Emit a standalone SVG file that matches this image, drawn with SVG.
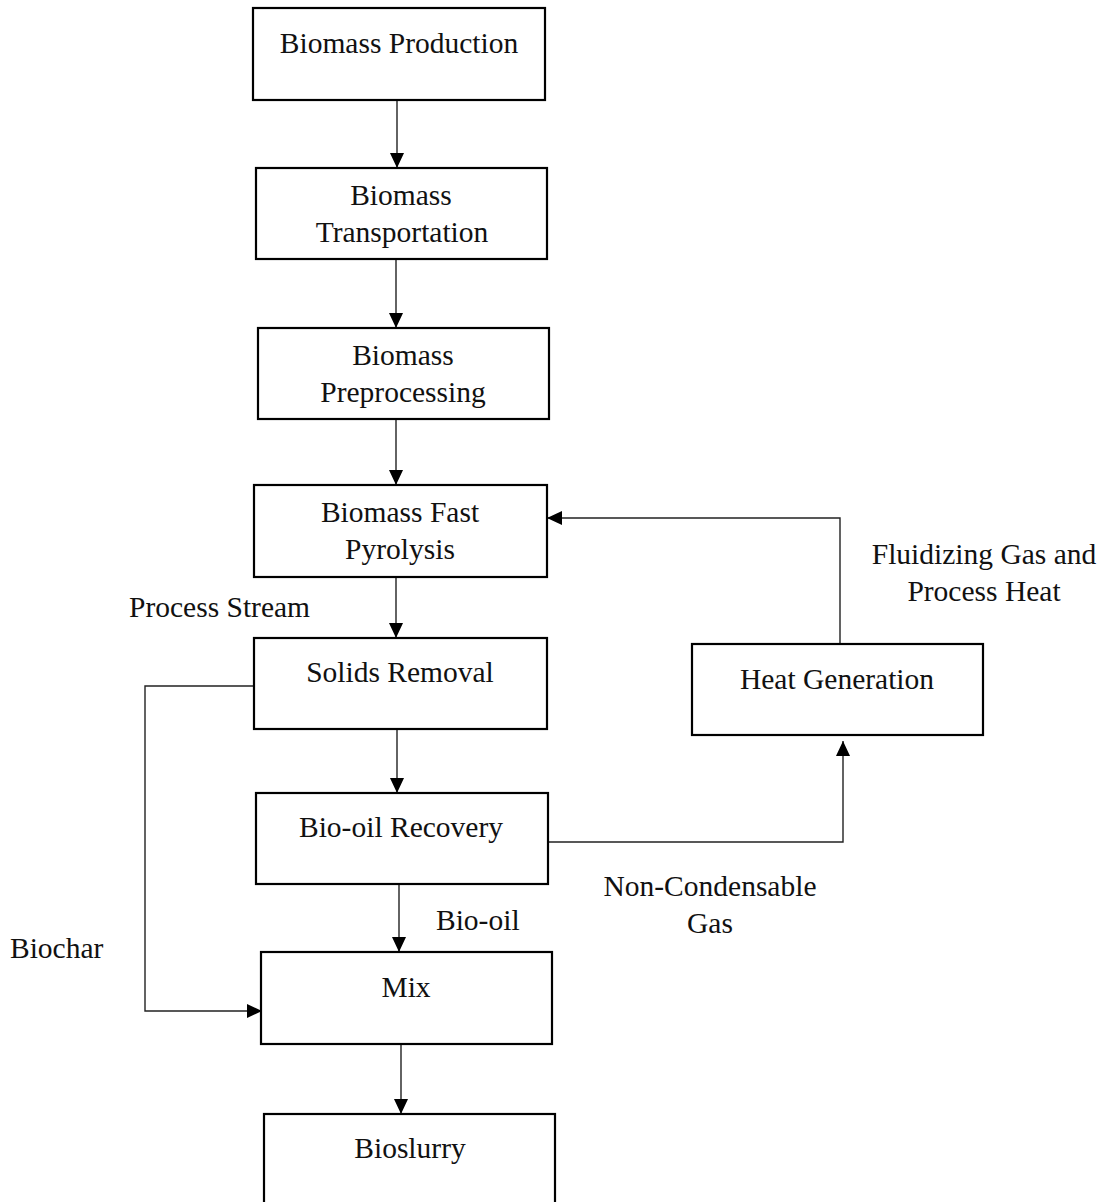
<svg xmlns="http://www.w3.org/2000/svg" width="1104" height="1202" viewBox="0 0 1104 1202">
<style>
.box{fill:#fff;stroke:#000;stroke-width:2.2}
.t{font-family:"Liberation Serif","Times New Roman",serif;font-size:29.5px;fill:#111;text-anchor:middle}
.l{font-family:"Liberation Serif","Times New Roman",serif;font-size:29.5px;fill:#111}
.c{fill:none;stroke:#222;stroke-width:1.4}
</style>
<defs>
<marker id="ah" markerUnits="userSpaceOnUse" markerWidth="16" markerHeight="14" refX="15" refY="7" orient="auto">
<path d="M0,0 L15,7 L0,14 Z" fill="#000"/>
</marker>
</defs>
<rect width="1104" height="1202" fill="#fff"/>
<g id="connectors">
<line class="c" x1="397" y1="100" x2="397" y2="168" marker-end="url(#ah)"/>
<line class="c" x1="396" y1="259" x2="396" y2="328" marker-end="url(#ah)"/>
<line class="c" x1="396" y1="419" x2="396" y2="485" marker-end="url(#ah)"/>
<line class="c" x1="396" y1="574" x2="396" y2="638" marker-end="url(#ah)"/>
<line class="c" x1="397" y1="726" x2="397" y2="793" marker-end="url(#ah)"/>
<line class="c" x1="399" y1="884" x2="399" y2="952" marker-end="url(#ah)"/>
<line class="c" x1="401" y1="1044" x2="401" y2="1114" marker-end="url(#ah)"/>
<polyline class="c" points="254,686 145,686 145,1011 262,1011" marker-end="url(#ah)"/>
<polyline class="c" points="548,842 843,842 843,741" marker-end="url(#ah)"/>
<polyline class="c" points="840,644 840,518 547,518" marker-end="url(#ah)"/>
</g>
<g id="n1"><rect class="box" x="253" y="8" width="292" height="92"/><text class="t" x="399" y="53">Biomass Production</text></g>
<g id="n2"><rect class="box" x="256" y="168" width="291" height="91"/><text class="t" x="401" y="205">Biomass</text><text class="t" x="402" y="242">Transportation</text></g>
<g id="n3"><rect class="box" x="258" y="328" width="291" height="91"/><text class="t" x="403" y="365">Biomass</text><text class="t" x="403" y="402">Preprocessing</text></g>
<g id="n4"><rect class="box" x="254" y="485" width="293" height="92"/><text class="t" x="400" y="522">Biomass Fast</text><text class="t" x="400" y="559">Pyrolysis</text></g>
<g id="n5"><rect class="box" x="254" y="638" width="293" height="91"/><text class="t" x="400" y="682">Solids Removal</text></g>
<g id="n6"><rect class="box" x="256" y="793" width="292" height="91"/><text class="t" x="401" y="837">Bio-oil Recovery</text></g>
<g id="n7"><rect class="box" x="261" y="952" width="291" height="92"/><text class="t" x="406" y="997">Mix</text></g>
<g id="n8"><rect class="box" x="264" y="1114" width="291" height="100"/><text class="t" x="410" y="1158">Bioslurry</text></g>
<g id="n9"><rect class="box" x="692" y="644" width="291" height="91"/><text class="t" x="837" y="689">Heat Generation</text></g>
<g id="labels">
<text class="l" x="129" y="617">Process Stream</text>
<text class="l" x="10" y="958">Biochar</text>
<text class="l" x="436" y="930">Bio-oil</text>
<text class="t" x="710" y="896">Non-Condensable</text>
<text class="t" x="710" y="933">Gas</text>
<text class="t" x="984" y="564">Fluidizing Gas and</text>
<text class="t" x="984" y="601">Process Heat</text>
</g>
</svg>
